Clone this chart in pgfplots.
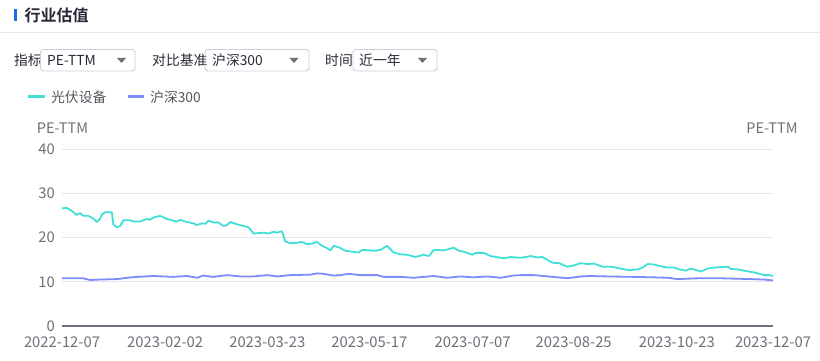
\documentclass[border=0pt]{standalone}
\usepackage{pgfplots}
\pgfplotsset{compat=1.18}
\usepackage{fontspec}
\setmainfont{Noto Sans CJK SC}
\newfontfamily\boldcjk{Noto Sans CJK SC Bold}
\definecolor{cyanl}{RGB}{64,224,216}
\definecolor{bluel}{RGB}{125,140,250}
\definecolor{gridc}{RGB}{230,230,242}
\definecolor{axisc}{RGB}{110,112,137}
\definecolor{tickc}{RGB}{110,112,121}
\definecolor{titlec}{RGB}{40,40,56}
\definecolor{barc}{RGB}{26,111,232}
\definecolor{boxc}{RGB}{205,205,220}
\definecolor{legc}{RGB}{85,85,95}

\pgfplotstableread{
x y
0 26.6
4.7 26.7
9.7 26.0
14.7 25.1
18 25.5
21.3 24.9
26.3 24.9
31.3 24.3
34.7 23.5
38 24.2
39.7 25.1
43 25.7
49.7 25.7
51.3 23.0
54.7 22.3
58 22.6
61.3 23.9
68 23.9
71.3 23.6
78 23.6
84.7 24.2
88 24.0
91.3 24.5
98 24.9
104.7 24.2
111.3 23.8
114.7 23.6
118 24.0
124.7 23.5
131.3 23.2
134.7 22.8
139.7 23.2
143 23.1
146.3 23.8
151.3 23.4
156.3 23.4
161.3 22.6
164.7 22.8
168 23.5
174.7 23.0
181.3 22.6
186.3 22.3
191.3 20.9
196.3 21.0
201.3 21.1
206.3 20.9
211.3 21.3
214.7 21.1
219.7 21.4
223 19.1
228 18.7
234.7 18.8
239.7 19.0
244.7 18.5
249.7 18.6
254.7 19.0
259.7 18.1
263 17.8
268 17.1
271.3 18.1
276.3 17.8
283 17.0
289.7 16.8
296.3 16.6
299.7 17.2
306.3 17.1
311.3 17.0
318 17.2
324.7 18.1
331.3 16.6
338 16.2
344.7 16.1
353 15.6
361.3 16.1
366.3 15.8
371.3 17.2
381.3 17.1
391.3 17.7
396.3 17.0
401.3 16.8
409.7 16.1
413 16.5
421.3 16.5
428 15.8
441.3 15.3
448 15.6
458 15.4
468 15.8
474.7 15.5
479.7 15.6
489.7 14.3
496.3 14.2
504.7 13.4
511.3 13.7
518 14.2
524.7 14.0
531.3 14.1
539.7 13.4
548 13.4
558 13.0
566.3 12.6
574.7 12.8
579.7 13.2
584.7 14.0
591.3 13.9
596.3 13.6
604.7 13.2
611.3 13.2
616.3 12.8
623 12.5
628 13.0
638 12.3
644.7 13.0
651.3 13.2
658 13.3
664.7 13.4
668 12.9
674.7 12.8
681.3 12.5
691.3 12.1
701.3 11.5
706.3 11.5
710 11.3
}\pvsb

\pgfplotstableread{
x y
0 10.8
21 10.8
28 10.4
38 10.5
55 10.6
65 10.9
75 11.1
91 11.3
111 11.1
125 11.3
135 10.9
141 11.4
151 11.1
165 11.5
178 11.2
191 11.2
205 11.5
215 11.2
228 11.5
248 11.6
255 11.9
261 11.8
271 11.4
278 11.5
286 11.8
298 11.5
315 11.5
321 11.1
338 11.1
351 10.9
371 11.3
385 10.9
398 11.2
411 11.0
425 11.2
438 10.9
451 11.4
458 11.5
471 11.5
481 11.3
495 11.0
505 10.8
518 11.2
528 11.3
545 11.2
571 11.1
591 11.0
605 10.9
615 10.6
625 10.7
638 10.8
655 10.8
671 10.7
688 10.6
701 10.5
710 10.3
}\hs

\begin{document}
\begin{tikzpicture}[x=1pt,y=1pt]
\useasboundingbox (0,0) rectangle (820,-361);
% header
\fill[barc] (14,-9) rectangle (17,-21);
\node[anchor=west, text=titlec, inner sep=0pt, font=\boldcjk\fontsize{16}{18}\selectfont] at (24.5,-15) {行业估值};
\draw[gridc, line width=1pt] (0,-32.5) -- (820,-32.5);
% controls
\begin{scope}[every node/.style={inner sep=0pt, anchor=west, font=\fontsize{13.8}{16}\selectfont, text=titlec}]
\node at (14,-60) {指标};
\draw[boxc, line width=0.9pt, rounded corners=3pt] (40.5,-49.5) rectangle (135,-71);
\node at (47,-60) {PE-TTM};
\fill[tickc] (117,-58) -- (126,-58) -- (121.5,-63) -- cycle;
\node at (152,-60) {对比基准};
\draw[boxc, line width=0.9pt, rounded corners=3pt] (205,-49.5) rectangle (309,-71);
\node at (212,-60) {沪深300};
\fill[tickc] (289.5,-58) -- (298.5,-58) -- (294,-63) -- cycle;
\node at (325,-60) {时间};
\draw[boxc, line width=0.9pt, rounded corners=3pt] (353,-49.5) rectangle (437,-71);
\node at (359,-60) {近一年};
\fill[tickc] (418,-58) -- (427,-58) -- (422.5,-63) -- cycle;
\end{scope}
% legend
\draw[cyanl, line width=3pt] (28,-97) -- (45,-97);
\node[anchor=west, inner sep=0pt, text=legc, font=\fontsize{13.8}{16}\selectfont] at (51,-97) {光伏设备};
\draw[bluel, line width=3pt] (128,-97) -- (144,-97);
\node[anchor=west, inner sep=0pt, text=legc, font=\fontsize{13.8}{16}\selectfont] at (150,-97) {沪深300};
% axis titles
\node[inner sep=0pt, text=tickc, font=\fontsize{14.5}{16}\selectfont] at (62.5,-128) {PE-TTM};
\node[inner sep=0pt, text=tickc, font=\fontsize{14.5}{16}\selectfont] at (772,-128) {PE-TTM};

\begin{axis}[
  at={(62pt,-326pt)}, anchor=south west,
  width=711pt, height=177pt, scale only axis,
  xmin=0, xmax=710, ymin=0, ymax=40,
  axis lines*=left,
  y axis line style={draw=none},
  x axis line style={draw=axisc, line width=2pt},
  ymajorgrids, grid style={gridc, line width=0.8pt},
  major tick length=0pt,
  ytick={0,10,20,30,40},
  xtick={0,103,205,307,410,511,614,710},
  xticklabels={2022-12-07,2023-02-02,2023-03-23,2023-05-17,2023-07-07,2023-08-25,2023-10-23,2023-12-07},
  /pgf/number format/assume math mode=true,
  tick label style={text=tickc, font=\fontsize{14.8}{16}\selectfont},
  yticklabel style={anchor=east, xshift=-7pt, inner sep=0pt},
  xticklabel style={anchor=center, inner sep=0pt, yshift=-16pt},
  clip=false,
]
\addplot[cyanl, line width=1.8pt, line join=round] table[x=x,y=y] {\pvsb};
\addplot[bluel, line width=1.8pt, line join=round] table[x=x,y=y] {\hs};
\end{axis}
\begin{axis}[
  at={(62pt,-326pt)}, anchor=south west,
  width=711pt, height=177pt, scale only axis,
  xmin=0, xmax=710, ymin=0, ymax=40,
  axis lines=none,
  ytick={0,10,20,30,40}, xtick=\empty,
  yticklabel pos=right,
  major tick length=0pt,
  /pgf/number format/assume math mode=true,
  tick label style={text=tickc, font=\fontsize{14.8}{16}\selectfont},
  yticklabel style={anchor=west, xshift=7pt, inner sep=0pt},
]
\end{axis}
\end{tikzpicture}
\end{document}
